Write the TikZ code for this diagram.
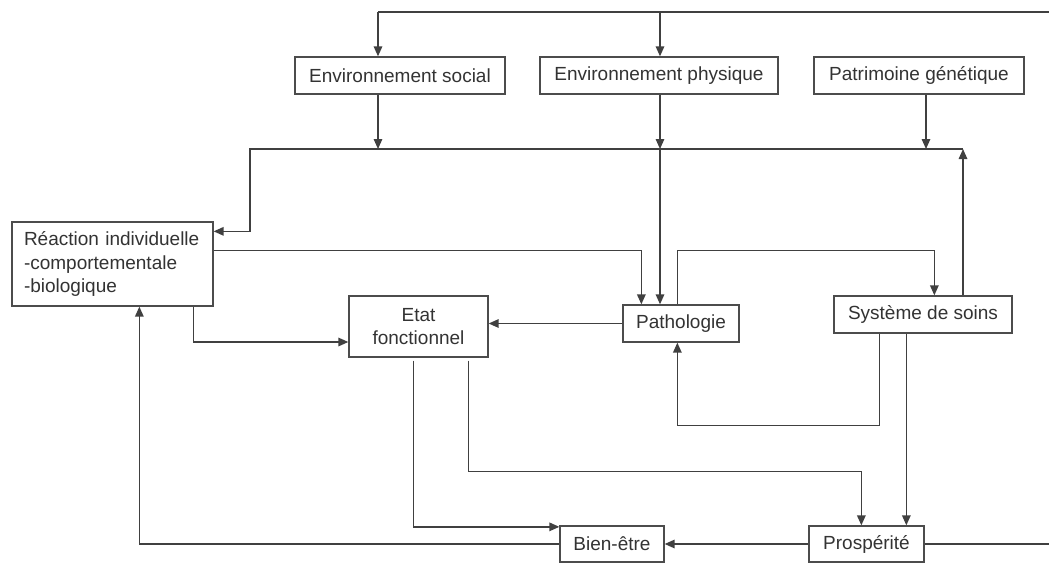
\documentclass[tikz,border=0pt]{standalone}
\usepackage{fontspec}
\setmainfont{Liberation Sans}
\usetikzlibrary{arrows.meta,calc}
\begin{document}
\begin{tikzpicture}[x=1pt,y=-1pt,
  box/.style={draw=black!70, line width=1.3pt, rectangle, inner sep=0pt, minimum height=37pt,
              font=\fontsize{19}{23.5}\selectfont, text=black!80},
  ln/.style={draw=black!75, line width=1.5pt},
  arr/.style={ln, -{Triangle[length=10pt,width=8.5pt]}}]
\useasboundingbox (0,0) rectangle (1049,562);
\fill[white] (0,0) rectangle (1049,562);

% boxes
\node[box, minimum width=210pt] (envs) at (400,75.5) {Environnement social};
\node[box, minimum width=238pt] (envp) at (659,75.5) {Environnement physique};
\node[box, minimum width=210pt] (patr) at (919,75.5) {Patrimoine génétique};
\node[box, minimum width=201pt, minimum height=84pt, text width=177pt, align=left] (reac) at (112.5,264)
  {Réaction individuelle\\-comportementale\\-biologique};
\node[box, minimum width=139pt, minimum height=61pt, align=center] (etat) at (418.5,326.5) {Etat\\fonctionnel};
\node[box, minimum width=116pt] (path) at (681,323.5) {Pathologie};
\node[box, minimum width=178pt] (syst) at (923,314.5) {Système de soins};
\node[box, minimum width=104pt, minimum height=36pt] (bien) at (612,544) {Bien-être};
\node[box, minimum width=115pt, minimum height=36pt] (pros) at (866.5,544) {Prospérité};

% coordinates
\coordinate (tr) at (1049,12);
\coordinate (t1) at (378,12);
\coordinate (t2) at (660,12);
\coordinate (bL) at (250,149);
\coordinate (bR) at (963,149);
\coordinate (pg) at (926,149);
\coordinate (br) at (1049,544);

% top feed
\draw[ln] (tr) -- (t1);
\draw[arr] (t1) -- (t1 |- envs.north);
\draw[arr] (t2) -- (t2 |- envp.north);

% bus
\draw[arr] (bR) -- (bL) |- ([yshift=-10pt]reac.north east);
\draw[arr] (envs.south -| t1) -- (t1 |- bL);
\draw[arr] (envp.south -| t2) -- (t2 |- bL);
\draw[arr] (t2 |- bL) -- (t2 |- path.north);
\draw[arr] (patr.south -| pg) -- (pg);
\draw[arr] (syst.north -| bR) -- (bR);

% middle connections
\draw[arr] ([yshift=-29pt]reac.north east) -| ($(path.north west)+(19,0)$);
\draw[arr] ($(path.north west)+(55,0)$) -- ++(0,-54) -| ($(syst.north west)+(101,0)$);
\draw[arr] (path.west) -- (path.west -| etat.east);
\draw[arr] ($(reac.south west)+(182,0)$) |- ([yshift=-15.5pt]etat.west);

% lower connections
\draw[arr] ($(etat.south west)+(65,3)$) |- ([yshift=-1.5pt]bien.north west);
\draw[arr] ($(etat.south west)+(120,3)$) -- ++(0,111) -| ($(pros.north west)+(53,0)$);
\draw[arr] ($(syst.south west)+(73,0)$) -- ($(pros.north west)+(98,0)$);
\draw[arr] ($(syst.south west)+(46,0)$) -- ++(0,92) -| ($(path.south west)+(55,0)$);
\draw[arr] (pros.west) -- (bien.east);
\draw[ln] (pros.east) -- (br);
\draw[arr] (bien.west) -| ($(reac.south west)+(128,0)$);
\end{tikzpicture}
\end{document}
